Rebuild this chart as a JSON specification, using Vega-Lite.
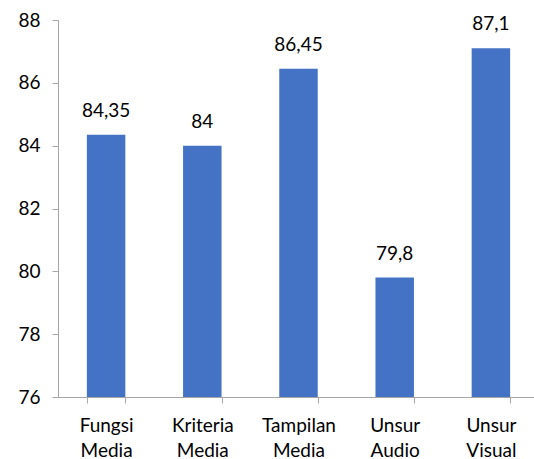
{
  "$schema": "https://vega.github.io/schema/vega-lite/v6.json",
  "width": 476,
  "height": 377,
  "autosize": {"type": "none"},
  "padding": {"left": 58, "top": 20, "right": 0, "bottom": 62},
  "background": "white",
  "config": {
    "view": {"stroke": null},
    "font": "Lato",
    "locale": {"number": {"decimal": ",", "thousands": ".", "grouping": [3], "currency": ["", ""]}}
  },
  "data": {
    "values": [
      {"kategori": "Fungsi Media", "nilai": 84.35},
      {"kategori": "Kriteria Media", "nilai": 84},
      {"kategori": "Tampilan Media", "nilai": 86.45},
      {"kategori": "Unsur Audio", "nilai": 79.8},
      {"kategori": "Unsur Visual", "nilai": 87.1}
    ]
  },
  "encoding": {
    "x": {
      "field": "kategori", "type": "nominal", "sort": null,
      "scale": {"range": [0, 481], "paddingInner": 0.6, "paddingOuter": 0.3},
      "axis": {
        "title": null, "labelAngle": 0, "labelExpr": "split(datum.label, ' ')",
        "tickBand": "extent", "domainColor": "#a6a6a6", "tickColor": "#a6a6a6",
        "tickSize": 6, "labelFontSize": 19, "labelColor": "#000000",
        "labelLineHeight": 25, "labelPadding": 13, "labelFont": "Lato", "zindex": 1
      }
    },
    "y": {
      "field": "nilai", "type": "quantitative",
      "scale": {"domain": [76, 88], "zero": false, "nice": false},
      "axis": {
        "title": null, "values": [76, 78, 80, 82, 84, 86, 88], "grid": false,
        "domainColor": "#a6a6a6", "tickColor": "#a6a6a6", "tickSize": 6,
        "labelFontSize": 19, "labelColor": "#000000", "labelPadding": 12, "labelFont": "Lato"
      }
    }
  },
  "layer": [
    {"mark": {"type": "bar", "color": "#4472c4", "clip": true}},
    {
      "mark": {"type": "text", "baseline": "bottom", "dy": -14, "fontSize": 19, "font": "Lato", "color": "#000000"},
      "encoding": {"text": {"field": "nilai", "type": "quantitative", "format": "~g"}}
    }
  ]
}
